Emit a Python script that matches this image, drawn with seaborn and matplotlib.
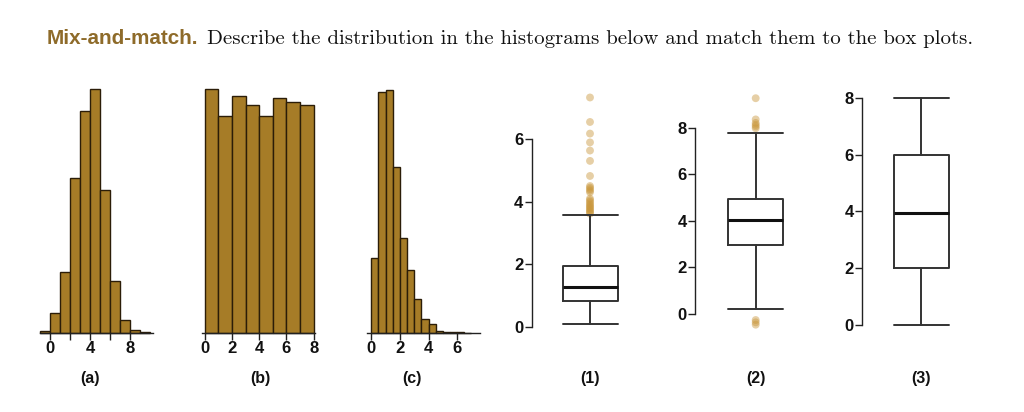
import numpy as np
import pandas as pd
import matplotlib
matplotlib.use("Agg")
import matplotlib.pyplot as plt
import seaborn as sns

sns.set_theme(style="white")
plt.rcParams['font.family'] = ['Liberation Sans', 'DejaVu Sans']

# ---------------- data ----------------
title_lead = "Mix-and-match."
title_rest = "Describe the distribution in the histograms below and match them to the box plots."

# histogram (a): bin left edges (width 1) and heights
hist_a_bins = [-1, 0, 1, 2, 3, 4, 5, 6, 7, 8, 9]
hist_a_counts = [2, 20, 61, 155, 222, 244, 143, 52, 13, 3, 1]
# histogram (b)
hist_b_bins = [0, 1, 2, 3, 4, 5, 6, 7]
hist_b_counts = [244, 217, 237, 228, 217, 235, 231, 228]
# histogram (c): bin width 0.5
hist_c_bins = [0, 0.5, 1, 1.5, 2, 2.5, 3, 3.5, 4, 4.5, 5, 5.5, 6, 6.5]
hist_c_counts = [75, 241, 243, 166, 95, 63, 34, 14, 9, 2, 1, 1, 1, 0.5]

hist_labels = ["(a)", "(b)", "(c)"]
hist_ticks = [[0, 4, 8], [0, 2, 4, 6, 8], [0, 2, 4, 6]]
hist_minor = [[2, 6], [], []]

# box plots: whislo, q1, median, q3, whishi, outliers
box_labels = ["(1)", "(2)", "(3)"]
box_whislo = [0.1, 0.2, 0.0]
box_q1 = [0.85, 2.98, 2.0]
box_med = [1.28, 4.02, 3.95]
box_q3 = [1.94, 4.95, 6.0]
box_whishi = [3.59, 7.75, 8.0]
box1_fliers = [3.62, 3.66, 3.70, 3.74, 3.78, 3.82, 3.86, 3.90, 3.95, 4.00, 4.05, 4.10,
               4.30, 4.35, 4.40, 4.45, 4.50, 4.82, 5.30, 5.63, 5.89, 6.17, 6.54, 7.32]
box2_fliers = [7.97, 8.05, 8.12, 8.20, 8.35, 9.26, -0.26, -0.36, -0.46]
box3_fliers = []
box_yticks = [[0, 2, 4, 6], [0, 2, 4, 6, 8], [0, 2, 4, 6, 8]]

# ---------------- style ----------------
W, H = 1024, 412
BAR = "#A67C27"
EDGE = "#2B1D08"
TITLE_BROWN = "#8E6B2A"
BOXLINE = "#333333"
FLIER = "#C9963A"
TICK_FS = 12
LABEL_FS = 11.5

fig = plt.figure(figsize=(W / 100, H / 100), dpi=100)


def px_axes(x0, x1, ytop, ybot):
    return fig.add_axes([x0 / W, 1 - ybot / H, (x1 - x0) / W, (ybot - ytop) / H])


tick_font = dict(fontsize=TICK_FS, fontweight="bold", color="#111111")

# histograms: (x0px, x1px, xlim, bin width, bins, counts, top px)
hist_specs = [
    (40, 153, (-1.0, 10.3), 1.0, hist_a_bins, hist_a_counts, 89),
    (202, 315, (-0.2, 8.1), 1.0, hist_b_bins, hist_b_counts, 89),
    (367, 480, (-0.3, 7.6), 0.5, hist_c_bins, hist_c_counts, 90),
]
for i, (x0, x1, xl, wdt, bins, counts, ytop) in enumerate(hist_specs):
    ax = px_axes(x0, x1, ytop, 333)
    df = pd.DataFrame({"x": np.array(bins) + wdt / 2, "w": counts})
    edges = list(bins) + [bins[-1] + wdt]
    sns.histplot(data=df, x="x", weights="w", bins=edges, ax=ax, color=BAR,
                 edgecolor=EDGE, linewidth=1.0, alpha=1.0)
    for p in ax.patches:
        p.set_clip_on(False)
    ax.set_xlim(*xl)
    ax.set_ylim(0, max(counts))
    ax.set_ylabel("")
    ax.set_xlabel("")
    ax.set_yticks([])
    for s in ["left", "right", "top"]:
        ax.spines[s].set_visible(False)
    ax.spines["bottom"].set_color("#222222")
    ax.spines["bottom"].set_linewidth(1.0)
    ax.set_xticks(hist_ticks[i])
    ax.set_xticks(hist_minor[i], minor=True)
    ax.set_xticklabels([str(t) for t in hist_ticks[i]], **tick_font)
    ax.tick_params(axis="x", which="both", direction="out", length=5, width=1,
                   color="#222222", bottom=True, pad=1)

hist_label_x = [90, 260, 412]
for lab, xp in zip(hist_labels, hist_label_x):
    fig.text(xp / W, 1 - 379 / H, lab, ha="center", va="center", fontsize=LABEL_FS,
             fontweight="bold", color="#111111")

# box plots: (spine_px, center_px, ylim, ytop_px, ybot_px, fliers)
box_specs = [
    (531.7, 590, (-0.3, 7.6), 88.7, 336.7, box1_fliers),
    (695, 755.7, (-0.8, 9.6), 90.3, 332.6, box2_fliers),
    (862, 921, (-0.3, 8.3), 89.5, 333.2, box3_fliers),
]
for i, (sx, cx, yl, yt, yb, fl) in enumerate(box_specs):
    half = cx - sx
    ax = px_axes(sx, cx + half, yt, yb)
    stats = [dict(whislo=box_whislo[i], q1=box_q1[i], med=box_med[i],
                  q3=box_q3[i], whishi=box_whishi[i], fliers=[])]
    bw = 55 / half
    ax.bxp(stats, positions=[0], widths=bw, showfliers=False,
           boxprops=dict(color=BOXLINE, linewidth=1.4),
           whiskerprops=dict(color=BOXLINE, linewidth=1.4),
           capprops=dict(color=BOXLINE, linewidth=1.4),
           medianprops=dict(color="#111111", linewidth=2.2),
           capwidths=bw)
    if fl:
        sns.scatterplot(x=np.zeros(len(fl)), y=fl, ax=ax, color=FLIER, alpha=0.45,
                        s=32, edgecolor="none", legend=False)
    ax.set_xlim(-1, 1)
    ax.set_ylim(*yl)
    ax.set_xticks([])
    ax.set_yticks(box_yticks[i])
    ax.set_yticklabels([str(t) for t in box_yticks[i]], **tick_font)
    for s in ["right", "top", "bottom"]:
        ax.spines[s].set_visible(False)
    ax.spines["left"].set_bounds(box_yticks[i][0], box_yticks[i][-1])
    ax.spines["left"].set_color("#222222")
    ax.spines["left"].set_linewidth(1.0)
    ax.tick_params(axis="y", direction="out", length=5, width=1, color="#222222",
                   left=True, pad=1)
    ax.patch.set_alpha(0)
    fig.text(cx / W, 1 - 379 / H, box_labels[i], ha="center", va="center",
             fontsize=LABEL_FS, fontweight="bold", color="#111111")

# title
t1 = fig.text(47 / W, 1 - 44 / H, title_lead, ha="left", va="baseline",
              fontsize=13, fontweight="bold", color=TITLE_BROWN)
t2 = fig.text(207 / W, 1 - 44 / H, title_rest, ha="left", va="baseline",
              fontsize=13, family=["cmr10", "DejaVu Serif"], color="#111111")
fig.canvas.draw()
r = fig.canvas.get_renderer()
t1.set_fontsize(13 * (199 - 47) / t1.get_window_extent(r).width)
t2.set_fontsize(13 * (975 - 207) / t2.get_window_extent(r).width)

fig.savefig("out.png", dpi=100)
